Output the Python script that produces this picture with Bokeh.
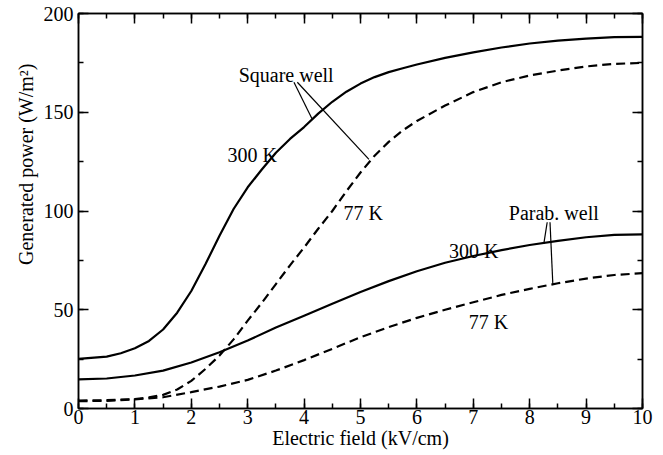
from bokeh.plotting import figure
from bokeh.models import (Range1d, LinearAxis, SingleIntervalTicker, Label, Title,
                          CustomLabelingPolicy)
from bokeh.embed import file_html
from bokeh.resources import INLINE

# ---- data ----
sq300_x = [0, 0.5, 0.75, 1, 1.25, 1.5, 1.75, 2, 2.25, 2.5, 2.75, 3, 3.25, 3.5, 3.75, 4, 4.25, 4.5,
           4.75, 5, 5.25, 5.5, 5.75, 6, 6.5, 7, 7.5, 8, 8.5, 9, 9.5, 10]
sq300_y = [25.1, 26.3, 28, 30.5, 34.2, 40, 48.5, 59.5, 73, 87.5, 101, 112, 121, 129.5, 136.5, 142.5,
           149.3, 155.3, 160.4, 164.5, 167.8, 170.3, 172.3, 174.2, 177.5, 180.3, 182.8, 184.8,
           186.3, 187.3, 188, 188.2]

sq77_x = [0, 0.5, 1, 1.25, 1.5, 1.75, 2, 2.25, 2.5, 2.75, 3, 3.25, 3.5, 3.75, 4, 4.25, 4.5, 4.75,
          5, 5.25, 5.5, 5.75, 6, 6.5, 7, 7.5, 8, 8.5, 9, 9.5, 10]
sq77_y = [4.0, 4.2, 4.8, 5.6, 6.9, 9.6, 14, 20, 26.8, 35, 44.5, 53.5, 63, 72.5, 81.5, 91, 100,
          110, 119.5, 128, 135, 140.8, 145.6, 153.4, 160.2, 165.2, 168.6, 171.1, 173.2, 174.5, 175]

pa300_x = [0, 0.5, 1, 1.5, 2, 2.5, 3, 3.5, 4, 4.5, 5, 5.5, 6, 6.5, 7, 7.5, 8, 8.5, 9, 9.5, 10]
pa300_y = [14.7, 15.2, 16.7, 19.2, 23.3, 28.5, 34.4, 41, 47, 53, 59, 64.5, 69.5, 73.8, 77.2,
           80.2, 82.8, 84.9, 86.7, 87.9, 88.2]

pa77_x = [0, 0.5, 1, 1.5, 2, 2.5, 3, 3.5, 4, 4.5, 5, 5.5, 6, 6.5, 7, 7.5, 8, 8.5, 9, 9.5, 10]
pa77_y = [3.7, 3.9, 4.6, 5.7, 8.3, 11.1, 14.5, 19.2, 24.5, 30.2, 36.1, 41.2, 45.9, 50, 53.8,
          57.5, 60.6, 63.4, 65.8, 67.6, 68.5]

# annotation texts (text, x, y of baseline)
notes = [
    ("Square well", 2.84, 168.9),
    ("300 K", 2.64, 128.6),
    ("77 K", 4.70, 98.9),
    ("Parab. well", 7.63, 98.9),
    ("300 K", 6.57, 79.6),
    ("77 K", 6.92, 43.7),
]
# pointer lines
ptr_x0 = [3.82, 3.88, 8.31, 8.36]
ptr_y0 = [165.2, 165.2, 94.3, 94.3]
ptr_x1 = [4.14, 5.15, 8.25, 8.41]
ptr_y1 = [146.7, 126.1, 83.4, 63.1]

x_label = "Electric field (kV/cm)"
y_label = "Generated power (W/m\u00b2)"

FONT = "Liberation Serif"

p = figure(width=662, height=454, output_backend="svg", toolbar_location=None,
           x_range=Range1d(0, 10), y_range=Range1d(0, 200),
           x_axis_location=None, y_axis_location=None,
           min_border_left=78, min_border_right=20, min_border_top=13, min_border_bottom=46)
p.grid.visible = False
p.background_fill_color = "white"
p.border_fill_color = "white"
p.outline_line_color = "black"
p.outline_line_width = 1.5

hide_all = CustomLabelingPolicy(code="for (const i of Array.from(indices)) indices.unset(i); return indices")


def make_axis(interval, show_labels, standoff=0):
    ax = LinearAxis(ticker=SingleIntervalTicker(interval=interval, num_minor_ticks=2))
    ax.axis_line_color = "black"
    ax.axis_line_width = 1.5
    ax.major_tick_in = 10
    ax.major_tick_out = 0
    ax.minor_tick_in = 5
    ax.minor_tick_out = 0
    ax.major_tick_line_width = 1.5
    ax.minor_tick_line_width = 1.5
    ax.major_tick_line_color = "black"
    ax.minor_tick_line_color = "black"
    ax.major_label_text_font = FONT
    ax.major_label_text_color = "black"
    ax.major_label_standoff = standoff
    if show_labels:
        ax.major_label_text_font_size = "20px"
    else:
        ax.major_label_text_font_size = "1px"
        ax.major_label_policy = hide_all
    return ax


xb = make_axis(1, True, 1)
xb.axis_label = x_label
xb.axis_label_text_font = FONT
xb.axis_label_text_font_size = "20px"
xb.axis_label_text_font_style = "normal"
xb.axis_label_text_color = "black"
xb.axis_label_standoff = 0
p.add_layout(xb, "below")

yl = make_axis(50, True, 5)
p.add_layout(yl, "left")
p.add_layout(make_axis(1, False), "above")
p.add_layout(make_axis(50, False), "right")

p.add_layout(Title(text=y_label, text_font=FONT, text_font_size="20px",
                   text_font_style="normal", text_color="black",
                   align="right", offset=50, standoff=8), "left")

p.line(sq300_x, sq300_y, line_color="black", line_width=2.2)
p.line(sq77_x, sq77_y, line_color="black", line_width=2.2, line_dash="9 5")
p.line(pa300_x, pa300_y, line_color="black", line_width=2.2)
p.line(pa77_x, pa77_y, line_color="black", line_width=2.2, line_dash="9 5")

p.segment(x0=ptr_x0, y0=ptr_y0, x1=ptr_x1, y1=ptr_y1, line_color="black", line_width=1.2)

for t, x, y in notes:
    p.add_layout(Label(x=x, y=y, text=t, text_font=FONT, text_font_size="20px",
                       text_color="black", text_baseline="alphabetic", text_align="left"))

open("out.html", "w").write(file_html(p, INLINE))
